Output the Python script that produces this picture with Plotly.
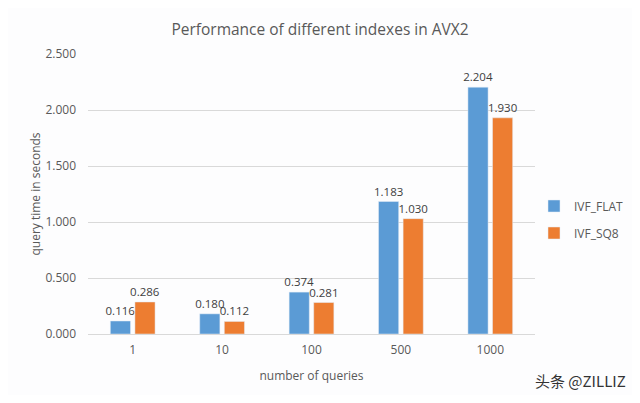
import plotly.graph_objects as go

categories = ["1", "10", "100", "500", "1000"]
ivf_flat = [0.116, 0.180, 0.374, 1.183, 2.204]
ivf_sq8 = [0.286, 0.112, 0.281, 1.030, 1.930]
y_ticks = [0, 0.5, 1.0, 1.5, 2.0, 2.5]

font_fam = "Open Sans, Noto Sans, sans-serif"
txt_col = "#595959"

# page has an 8px body margin; figure sized so the page does not scroll
FW, FH = 624, 387
PW, PH = 447, 280  # plot area: screen x 88..535, y 54..334

fig = go.Figure()
fig.add_trace(go.Bar(
    x=categories, y=ivf_flat, name="IVF_FLAT", marker_color="#5B9BD5", legendgroup="a",
    text=[f"{v:.3f}" for v in ivf_flat], textposition="outside", constraintext="none",
    textfont=dict(size=11.5, color="#404040", family=font_fam), cliponaxis=False,
))
fig.add_trace(go.Bar(
    x=categories, y=ivf_sq8, name="IVF_SQ8", marker_color="#ED7D31", legendgroup="b",
    text=[f"{v:.3f}" for v in ivf_sq8], textposition="outside", constraintext="none",
    textfont=dict(size=11.5, color="#404040", family=font_fam), cliponaxis=False,
))

fig.update_layout(
    width=FW, height=FH,
    margin=dict(l=80, r=97, t=46, b=61, autoexpand=False),
    paper_bgcolor="#fdfdfe", plot_bgcolor="#fdfdfe",
    barmode="group", bargap=0.45, bargroupgap=0.18,
    font=dict(family=font_fam, color=txt_col, size=12),
    title=dict(text="Performance of different indexes in AVX2", x=(320 - 8) / FW, xanchor="center",
               y=1 - 22 / FH, yanchor="middle", font=dict(size=15.5, color=txt_col)),
    legend=dict(x=(534 - 88) / PW, y=(334 - 219.5) / PH, xanchor="left", yanchor="middle",
                font=dict(size=12, color=txt_col), tracegroupgap=8, itemwidth=30,
                bgcolor="rgba(0,0,0,0)"),
    xaxis=dict(type="category", showgrid=False, showline=True, linecolor="#d9d9d9",
               ticks="", tickfont=dict(size=12, color=txt_col), automargin=False,
               ticklabelstandoff=5,
               title=dict(text="number of queries", font=dict(size=12, color=txt_col), standoff=14)),
    yaxis=dict(range=[0, 2.5], tickvals=y_ticks, tickformat=".3f", showgrid=True, automargin=False,
               gridcolor="#d9d9d9", zeroline=False, ticks="", tickfont=dict(size=12, color=txt_col),
               ticklabelstandoff=11,
               title=dict(text="query time in seconds", font=dict(size=12, color=txt_col), standoff=2)),
    annotations=[dict(text="头条 @ZILLIZ", xref="paper", yref="paper",
                      x=(628 - 88) / PW, y=-(380 - 334) / PH, xanchor="right", yanchor="middle",
                      showarrow=False,
                      font=dict(size=15, color="#333333", family="Noto Sans CJK SC, sans-serif"))],
)

fig.write_html("out.html")
